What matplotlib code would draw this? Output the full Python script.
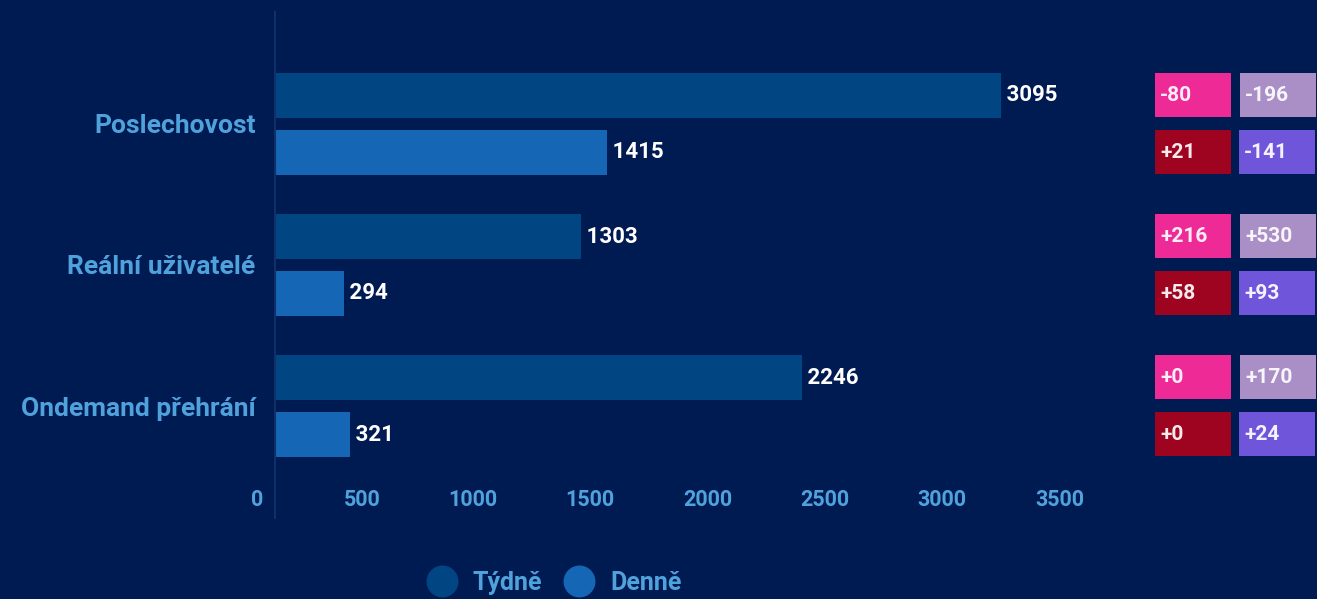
import matplotlib
matplotlib.use('Agg')
import matplotlib.pyplot as plt
import matplotlib.transforms as mtransforms
from matplotlib.patches import Rectangle
from matplotlib.lines import Line2D

# data
categories = ["Poslechovost", "Reální uživatelé", "Ondemand přehrání"]
series_names = ["Týdně", "Denně"]
weekly = [3095, 1303, 2246]
daily = [1415, 294, 321]
tick_values = [0, 500, 1000, 1500, 2000, 2500, 3000, 3500]
badge_week_a = ["-80", "+216", "+0"]
badge_week_b = ["-196", "+530", "+170"]
badge_day_a = ["+21", "+58", "+0"]
badge_day_b = ["-141", "+93", "+24"]

BG = '#001a52'
C_WEEK = '#014582'
C_DAY = '#1566b4'
LABEL = '#50a2dd'
PINK = '#ee2a96'
LILAC = '#a98fc6'
DRED = '#9e041f'
PURPLE = '#6e55da'

plt.rcParams['font.family'] = ['Roboto', 'DejaVu Sans']
plt.rcParams['font.weight'] = 'bold'

W, H = 1317, 599
fig = plt.figure(figsize=(W / 100, H / 100), dpi=100, facecolor=BG)

# main axes: x 275..1096 px, y 12..518 px
ax = fig.add_axes([275 / W, 1 - 518 / H, 821 / W, 506 / H], facecolor=BG)
ax.set_xlim(0, 3500)
ax.set_ylim(2.794, -0.794)

off = 0.202
bh = 0.319
y = list(range(len(categories)))
ax.barh([v - off for v in y], weekly, height=bh, color=C_WEEK, label=series_names[0])
ax.barh([v + off for v in y], daily, height=bh, color=C_DAY, label=series_names[1])

for i in y:
    ax.text(weekly[i], i - off, ' ' + str(weekly[i]), color='white', fontsize=16,
            va='center', ha='left')
    ax.text(daily[i], i + off, ' ' + str(daily[i]), color='white', fontsize=16,
            va='center', ha='left')

for s in ['top', 'right', 'bottom']:
    ax.spines[s].set_visible(False)
ax.spines['left'].set_color('#10306b')
ax.spines['left'].set_linewidth(1.5)

ax.set_yticks(y)
ax.set_yticklabels(categories, color=LABEL, fontsize=19)
ax.tick_params(axis='y', length=0, pad=14)
ax.set_xticks([])

# x tick labels sit inside the plot area, right aligned a bit left of the tick
trans = mtransforms.blended_transform_factory(ax.transData, ax.transAxes)
shift = mtransforms.ScaledTranslation(-12 / 100, 0, fig.dpi_scale_trans)
for t in tick_values:
    ax.text(t, 18 / 506, str(t), transform=trans + shift, color=LABEL,
            fontsize=15.5, ha='right', va='center')

# badges on the right
bx = fig.add_axes([1150 / W, 1 - 518 / H, 167 / W, 506 / H])
bx.set_xlim(0, 167)
bx.set_ylim(2.794, -0.794)
bx.axis('off')

def badge(x0, yc, txt, col):
    bx.add_patch(Rectangle((x0, yc - bh / 2), 76, bh * 0.98, color=col, lw=0))
    bx.text(x0 + 5, yc, txt, color='white', alpha=0.92, fontsize=15,
            va='center', ha='left')

for i in y:
    badge(5, i - off, badge_week_a[i], PINK)
    badge(90, i - off, badge_week_b[i], LILAC)
    badge(5, i + off, badge_day_a[i], DRED)
    badge(89, i + off, badge_day_b[i], PURPLE)

handles = [Line2D([], [], marker='o', ls='', ms=22, color=C_WEEK),
           Line2D([], [], marker='o', ls='', ms=22, color=C_DAY)]
leg = fig.legend(handles, series_names, loc='center', bbox_to_anchor=(554 / W, 1 - 583 / H),
                 ncol=2, frameon=False, fontsize=18, handletextpad=0.65,
                 columnspacing=0.85, handlelength=1.2)
for t in leg.get_texts():
    t.set_color(LABEL)

plt.savefig('out.png', dpi=100, facecolor=BG)
plt.close()
